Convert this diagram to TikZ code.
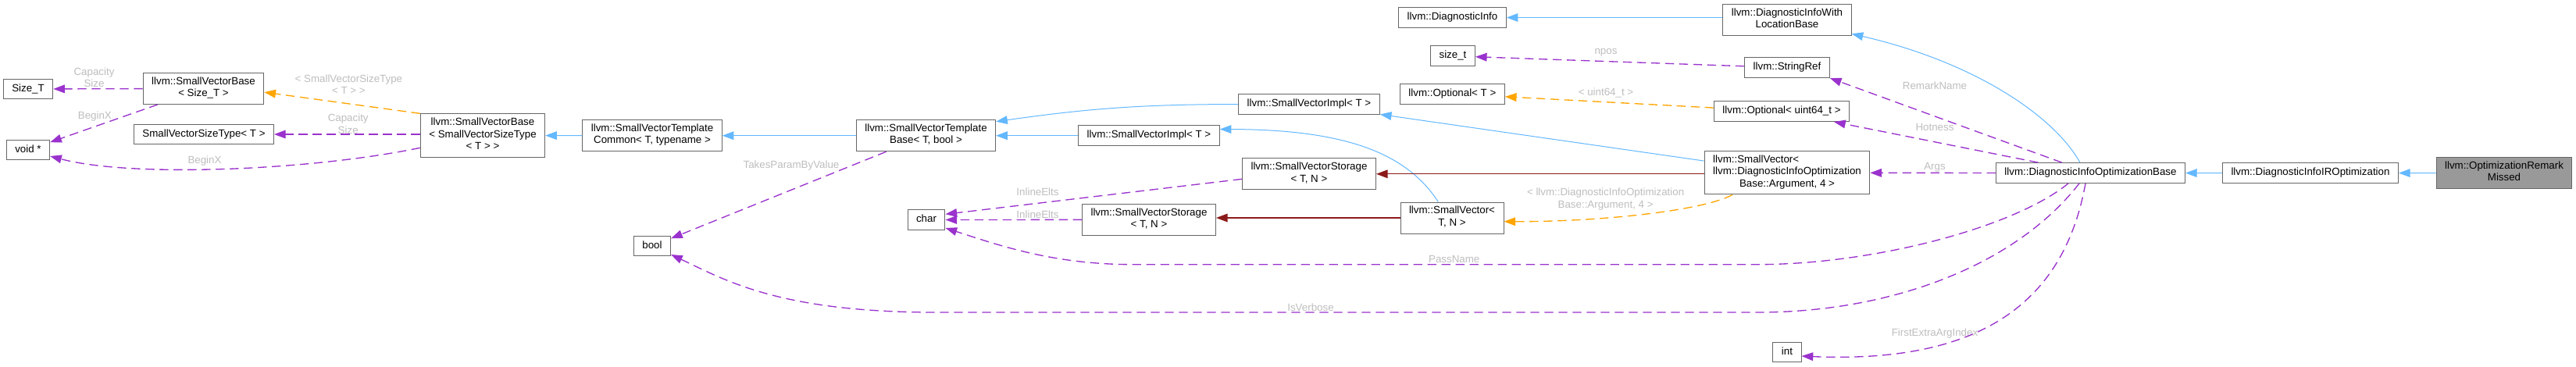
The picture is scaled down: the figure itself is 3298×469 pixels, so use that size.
\documentclass[tikz,border=0pt]{standalone}
\usepackage{fontspec}
\setmainfont{Liberation Sans}
\usetikzlibrary{arrows.meta,calc}
\definecolor{edgeblue}{HTML}{63B8FF}
\definecolor{edgeorchid}{HTML}{9A32CD}
\definecolor{edgeorange}{HTML}{FFA500}
\definecolor{edgered}{HTML}{8B1A1A}
\definecolor{boxgrey}{HTML}{666666}
\definecolor{rootgrey}{HTML}{999999}
\definecolor{lblgrey}{HTML}{BEBEBE}

\begin{document}
\begin{tikzpicture}[x=0.75pt,y=0.75pt,
    cls/.style={draw=boxgrey,line width=0.75pt,fill=white,align=center,
        font=\fontsize{10}{11.5}\selectfont,inner xsep=8.25pt,inner ysep=3.9pt,
        execute at begin node=\strut,execute at end node=\strut},
    root/.style={cls,fill=rootgrey},
    lbl/.style={text=lblgrey,align=center,font=\fontsize{10}{11.5}\selectfont,inner sep=0pt},
    inh/.style={-{Triangle[length=11pt,width=8pt]},edgeblue,line width=0.75pt},
    usage/.style={-{Triangle[length=11pt,width=8pt]},edgeorchid,line width=1pt,dash pattern=on 8.5pt off 5pt},
    tmpl/.style={-{Triangle[length=11pt,width=8pt]},edgeorange,line width=1pt,dash pattern=on 8.5pt off 5pt},
    priv/.style={-{Triangle[length=11pt,width=8pt]},edgered,line width=1pt}]
    \fill[white] (0,0) rectangle (3298,-469);
    \useasboundingbox (0,0) rectangle (3298,-469);

    % classes, left to right
    \node[cls] (sizeT) at (36,-114) {Size\_T};
    \node[cls] (svbSize) at (260.5,-113.4) {llvm::SmallVectorBase\\< Size\_T >};
    \node[cls] (voidp) at (36,-192) {void *};
    \node[cls] (svst) at (261,-172) {SmallVectorSizeType< T >};
    \node[cls] (svbSvst) at (618,-173.5) {llvm::SmallVectorBase\\< SmallVectorSizeType\\< T > >};
    \node[cls] (svtCommon) at (835,-173.7) {llvm::SmallVectorTemplate\\Common< T, typename >};
    \node[cls] (svtBase) at (1185.5,-173.7) {llvm::SmallVectorTemplate\\Base< T, bool >};
    \node[cls] (bool) at (835,-315) {bool};
    \node[cls] (charN) at (1186,-281.5) {char};
    \node[cls] (implTop) at (1676,-133.5) {llvm::SmallVectorImpl< T >};
    \node[cls] (implBot) at (1471,-173.7) {llvm::SmallVectorImpl< T >};
    \node[cls] (storTop) at (1676,-222.8) {llvm::SmallVectorStorage\\< T, N >};
    \node[cls] (storBot) at (1471,-281.3) {llvm::SmallVectorStorage\\< T, N >};
    \node[cls] (diagInfo) at (1859.5,-22.5) {llvm::DiagnosticInfo};
    \node[cls] (sizet) at (1860,-71.7) {size\_t};
    \node[cls] (optT) at (1859.4,-120.2) {llvm::Optional< T >};
    \node[cls] (svTN) at (1859,-279) {llvm::SmallVector<\\T, N >};
    \node[cls] (withLoc) at (2288,-25.3) {llvm::DiagnosticInfoWith\\LocationBase};
    \node[cls] (strRef) at (2288,-86.7) {llvm::StringRef};
    \node[cls] (optU) at (2281,-142.7) {llvm::Optional< uint64\_t >};
    \node[cls] (svArg) at (2288,-221.3) {\makebox[0pt][l]{llvm::SmallVector<}\phantom{llvm::DiagnosticInfoOptimization}\\llvm::DiagnosticInfoOptimization\\Base::Argument, 4 >};
    \node[cls] (intN) at (2288,-451) {int};
    \node[cls] (optBase) at (2676.5,-221.5) {llvm::DiagnosticInfoOptimizationBase};
    \node[cls] (irOpt) at (2958,-221.7) {llvm::DiagnosticInfoIROptimization};
    \node[root] (missed) at (3206,-221.5) {llvm::OptimizationRemark\\Missed};

    % edge labels
    \node[lbl] (lCap1) at (120.5,-99) {Capacity\\Size};
    \node[lbl] (lBeg1) at (121.4,-149.3) {BeginX};
    \node[lbl] (lBeg2) at (262,-205.7) {BeginX};
    \node[lbl] (lSvst) at (446.4,-108.3) {< SmallVectorSizeType\\< T > >};
    \node[lbl] (lCap2) at (445.7,-158.8) {Capacity\\Size};
    \node[lbl] (lTakes) at (1013,-211.7) {TakesParamByValue};
    \node[lbl] (lInl1) at (1328.5,-245.5) {InlineElts};
    \node[lbl] (lInl2) at (1328.5,-274.7) {InlineElts};
    \node[lbl] (lNpos) at (2056,-67.7) {npos};
    \node[lbl] (lUint) at (2056,-119) {< uint64\_t >};
    \node[lbl] (lArgT) at (2055.6,-255.2) {< llvm::DiagnosticInfoOptimization\\Base::Argument, 4 >};
    \node[lbl] (lPass) at (1861.7,-331.7) {PassName};
    \node[lbl] (lVerb) at (1678,-393.7) {IsVerbose};
    \node[lbl] (lRemark) at (2477,-110) {RemarkName};
    \node[lbl] (lHot) at (2477,-163.3) {Hotness};
    \node[lbl] (lArgs) at (2477,-214.3) {Args};
    \node[lbl] (lFirst) at (2477,-426.7) {FirstExtraArgIndex};

    % SmallVector base part
    \draw[usage] (svbSize) -- (sizeT);
    \draw[usage] (svbSize) -- (voidp);
    \draw[tmpl] (svbSvst.north west) -- ($(svbSize.east)+(0,-4.7)$);
    \draw[usage] (svbSvst.west |- svst.east) -- (svst.east);
    \draw[usage] ($(svbSvst.west)+(0,-15.8)$) .. controls +(-138.6,-28.7) and +(106.4,-28) .. ($(voidp.east)+(0,-8)$);
    \draw[inh] (svtCommon) -- (svbSvst);
    \draw[inh] (svtBase) -- (svtCommon);
    \draw[usage] (svtBase) -- (bool);
    \draw[inh] (implTop.west) to[bend right=4] ($(svtBase.east)+(0,18)$);
    \draw[inh] (implBot) -- (svtBase);
    \draw[usage] ($(storTop.west)+(0,-6.5)$) -- ($(charN.east)+(0,7.2)$);
    \draw[usage] (storBot) -- (charN);

    % SmallVector<T,N> and its instance
    \draw[inh] ($(svTN.north)+(-17.7,0)$) .. controls +(-41.3,63.7) and +(158.4,-0.5) .. ($(implBot.east)+(0,8.2)$);
    \draw[priv] (svTN.west) -- (svTN.west -| storBot.east);
    \draw[inh] (svArg) -- (implTop);
    \draw[priv] (svArg.west |- storTop.east) -- (storTop.east);
    \draw[tmpl] ($(svArg.south)+(-70,0)$) .. controls +(-38,-20.3) and +(124.5,-0.3) .. ($(svTN.east)+(0,-4.7)$);

    % members of the optimization base
    \draw[usage] (optBase) -- (svArg);
    \draw[usage] (optBase) -- (optU);
    \draw[usage] (optBase) -- (strRef.south east);
    \draw[usage] ($(optBase.south)+(-28.5,0)$) .. controls +(-68,-55.7) and +(150,0) .. (2250,-338.7)
        -- (1450,-338.7) .. controls +(-100,0) and +(70.8,-23) .. ($(charN.east)+(0,-10.5)$);
    \draw[usage] ($(optBase.south)+(-14.5,0)$) .. controls +(-82,-105.7) and +(170,0) .. (2250,-400)
        -- (1200,-400) .. controls +(-200,0) and +(71.7,-34) .. ($(bool.east)+(0,-11)$);
    \draw[usage] ($(optBase.south)+(-6.5,0)$) .. controls +(-30,-165.7) and +(212.4,-9) .. ($(intN.east)+(0,-5)$);
    \draw[inh] ($(optBase.north)+(-13.5,0)$) .. controls +(-33,59) and +(159,-36.8) .. ($(withLoc.south east)+(0,2.5)$);
    \draw[inh] (withLoc.west |- diagInfo.east) -- (diagInfo.east);
    \draw[usage] (strRef) -- (sizet);
    \draw[tmpl] (optU) -- (optT);

    % derived classes
    \draw[inh] (irOpt) -- (optBase);
    \draw[inh] (missed) -- (irOpt);
\end{tikzpicture}
\end{document}
